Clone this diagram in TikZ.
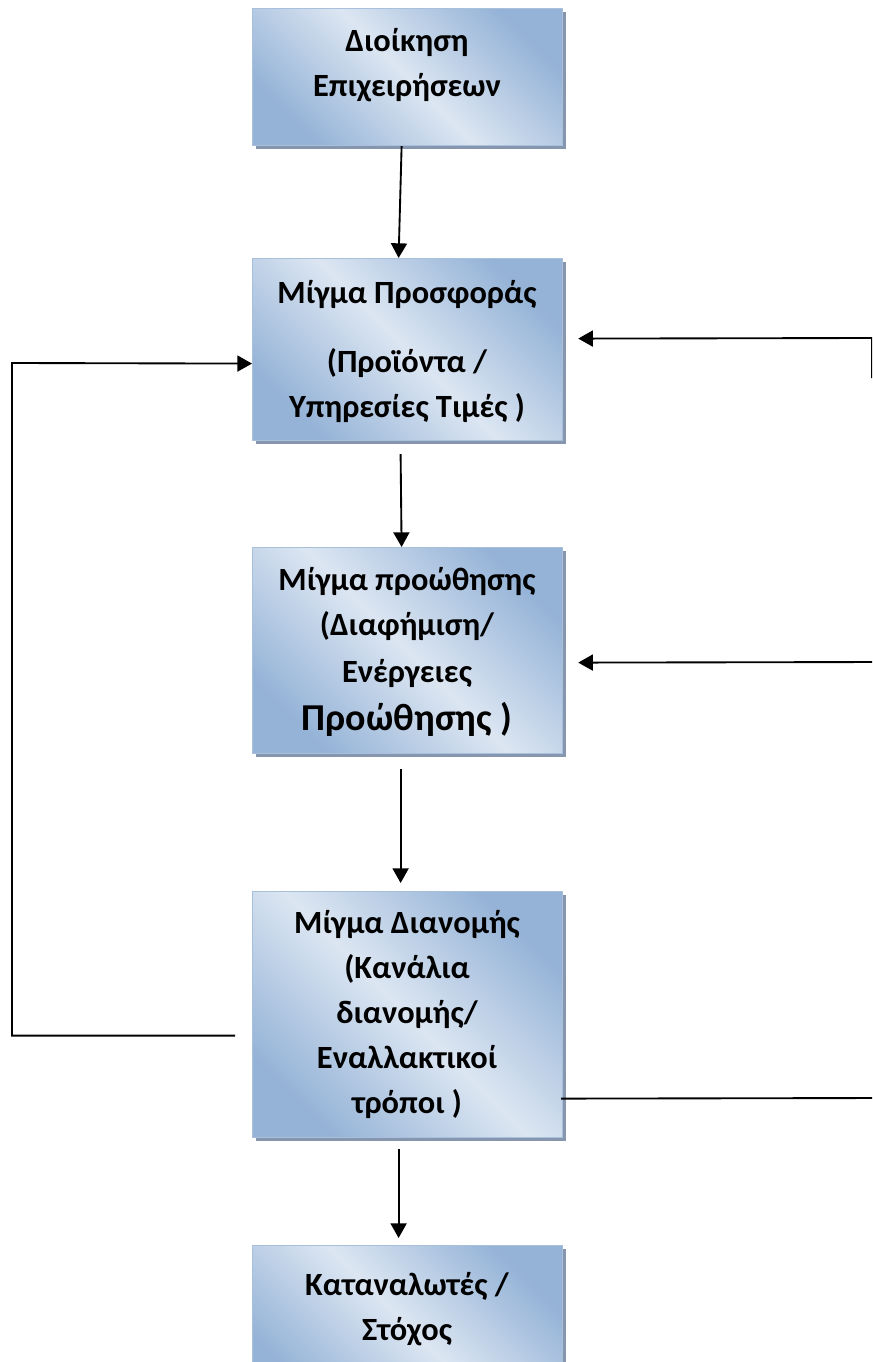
\documentclass[tikz,border=0pt]{standalone}
\usepackage{fontspec}
\setmainfont{Carlito}
\usetikzlibrary{arrows.meta,calc,shadows}
\definecolor{boxlight}{HTML}{DCE6F2}
\definecolor{boxdark}{HTML}{95B3D7}
\definecolor{boxedge}{HTML}{A9C0DD}
\definecolor{boxshadow}{HTML}{8596AE}
\tikzset{
  card/.style={rectangle, draw=boxedge, line width=0.9pt,
    left color=boxdark, right color=boxdark, middle color=boxlight,
    shading angle=135, inner sep=0pt, anchor=north west,
    minimum width=232.5pt,
    general shadow={fill=boxshadow, shadow xshift=2.4pt, shadow yshift=-2.4pt}},
  lbl/.style={font=\bfseries\fontsize{24.3}{33.75}\selectfont, align=center, inner sep=0pt, anchor=base},
  wire/.style={draw=black, line width=1.4pt},
  conn/.style={wire, -{Triangle[length=11pt,width=12pt]}},
}
\begin{document}
\begin{tikzpicture}[x=0.75pt, y=-0.75pt]
  \useasboundingbox (0,0) rectangle (872,1362);
  \clip (0,0) rectangle (872,1362);
  \fill[white] (0,0) rectangle (872,1362);

  % the five stages, top to bottom
  \node[card, minimum height=102.75pt] (b1) at (252,8) {};
  \node[card, minimum height=136.5pt]  (b2) at (252,258) {};
  \node[card, minimum height=154.5pt]  (b3) at (252,547) {};
  \node[card, minimum height=184.5pt]  (b4) at (252,891) {};
  \node[card, minimum height=120pt]    (b5) at (252,1245) {};

  % labels (placed by the baseline of their last line)
  \node[lbl] (t1) at (407,97) {Διοίκηση\\Επιχειρήσεων};
  \node[lbl] (t2) at (407,417) {Μίγμα Προσφοράς\\[18pt](Προϊόντα /\\Υπηρεσίες Τιμές )};
  \node[lbl] (t3) at (407,730) {Μίγμα προώθησης\\(Διαφήμιση/\\[1.5pt]Ενέργειες\\[2pt]{\fontsize{28.5}{33.75}\selectfont Προώθησης )}};
  \node[lbl] (t4) at (407,1113) {Μίγμα Διανομής\\(Κανάλια\\διανομής/\\Εναλλακτικοί\\τρόποι )};
  \node[lbl] (t5) at (407,1340) {Καταναλωτές /\\Στόχος};

  % main chain
  \draw[conn] ($(b1.south)+(-6,0)$) -- ($(b2.north)+(-9,0)$);
  \draw[conn] ($(b2.south)+(-7,13)$) -- ($(b3.north)+(-6,0)$);
  \draw[conn] ($(b3.south)+(-7,15)$) -- ($(b4.north)+(-7,-8)$);
  \draw[conn] ($(b4.south)+(-9,11)$) -- ($(b5.north)+(-9,-7)$);

  % feedback on the left
  \coordinate (lstart) at ($(b4.west)+(-17,21)$);
  \coordinate (ltip) at ($(b2.west)+(0,14)$);
  \coordinate (lcorner) at (12,363);
  \draw[conn] (lstart) -| (lcorner) -- (ltip);

  % feedback on the right
  \coordinate (rstart) at ($(b4.east)+(-2,84)$);
  \coordinate (rout) at (885,1098);
  \coordinate (rtop) at ($(b2.east)+(15,-11)$);
  \coordinate (rmid) at ($(b3.east)+(15,12)$);
  \coordinate (rcorner) at (872,338);
  \coordinate (rdown) at (872,378);
  \coordinate (redge) at (885,662);
  \draw[wire] (rstart) -- (rout);
  \draw[conn] (rdown) -- (rcorner) -- (rtop);
  \draw[conn] (redge) -- (rmid);
\end{tikzpicture}
\end{document}
